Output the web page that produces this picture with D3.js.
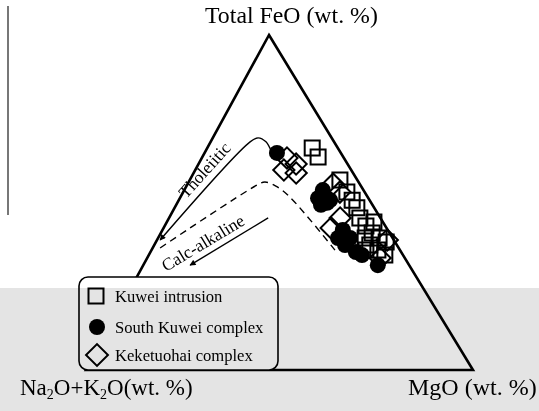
<!DOCTYPE html>
<html><head><meta charset="utf-8">
<script src="https://cdn.jsdelivr.net/npm/d3@7/dist/d3.min.js"></script>
<style>html,body{margin:0;padding:0;background:#fff;}svg{display:block;}</style>
</head><body>
<script>
// Ternary AFM data: FeO (top), MgO (right); alkalis = 100 - FeO - MgO
const kuweiFeO = [56.7,53.1,50.7,48.4,45.4,43.0,40.9,39.4,38.2,37.3,35.8,35.8,34.3,44.2,39.4,66.3,63.6];
const kuweiMgO = [38.8,42.3,44.8,47.1,49.3,52.0,54.6,57.1,59.5,55.7,58.5,55.4,61.0,53.5,53.5,27.1,29.9];
const southFeO = [64.8,51.3,53.7,49.3,50.7,49.9,39.4,41.8,37.3,39.4,35.2,34.3,31.3];
const southMgO = [18.7,35.7,35.8,37.4,39.1,38.7,46.5,46.6,49.3,49.6,53.1,55.1,60.6];
const keketFeO = [63.3,61.5,59.7,58.8,55.5,53.1,42.4,45.4,38.8,33.4];
const keketMgO = [22.0,25.2,22.9,26.5,37.6,40.5,43.3,44.2,59.5,60.2];
// Boundary curves
const tholFeO = [64.8,68.1,69.3,68.1,38.8];
const tholMgO = [17.4,14.3,11.7,10.2,0.8];
const calcFeO = [35.8,51.6,54.9,56.1,55.2,36.4];
const calcMgO = [47.4,28.3,23.1,19.7,18.1,1.9];
const calcArrowFeO = [45.4,31.3];
const calcArrowMgO = [25.6,12.1];
const legendLabels = ["Kuwei intrusion","South Kuwei complex","Keketuohai complex"];

const W = 539, H = 411;
const svg = d3.select("body").append("svg").attr("width", W).attr("height", H);
const serif = "'Liberation Serif','Times New Roman',serif";

// ternary geometry via scales
const baseY = 370, xA = 86, xM = 473, xF = 269, yF = 35;
const yScale = d3.scaleLinear().domain([0,100]).range([baseY, yF]);
const xF_off = d3.scaleLinear().domain([0,100]).range([0, xF - xA]);
const xM_off = d3.scaleLinear().domain([0,100]).range([0, xM - xA]);
const px = (f, m) => [xA + xF_off(f) + xM_off(m), yScale(f)];

const defs = svg.append("defs");
defs.append("marker").attr("id","arr").attr("viewBox","0 0 10 10").attr("refX",9).attr("refY",5)
  .attr("markerWidth",8).attr("markerHeight",6).attr("markerUnits","userSpaceOnUse").attr("orient","auto")
  .append("path").attr("d","M0,0 L10,5 L0,10 Z").attr("fill","#000");

// left scan line
svg.append("line").attr("x1",8).attr("x2",8).attr("y1",6).attr("y2",215)
  .attr("stroke","#777").attr("stroke-width",2);

// triangle
const tri = [px(100,0), px(0,100), px(0,0)];
svg.append("path").attr("d", d3.line()(tri) + "Z").attr("fill","none")
  .attr("stroke","#000").attr("stroke-width",2.6).attr("stroke-linejoin","miter");

const lineGen = d3.line().curve(d3.curveCatmullRom.alpha(0.5));
svg.append("path").attr("d", lineGen(tholFeO.map((f,i)=>px(f,tholMgO[i]))))
  .attr("fill","none").attr("stroke","#000").attr("stroke-width",1.4).attr("marker-end","url(#arr)");
svg.append("path").attr("d", lineGen(calcFeO.map((f,i)=>px(f,calcMgO[i]))))
  .attr("fill","none").attr("stroke","#000").attr("stroke-width",1.4).attr("stroke-dasharray","7,5");
svg.append("path").attr("d", d3.line()(calcArrowFeO.map((f,i)=>px(f,calcArrowMgO[i]))))
  .attr("fill","none").attr("stroke","#000").attr("stroke-width",1.4).attr("marker-end","url(#arr)");

svg.append("text").attr("transform","translate(209,174) rotate(-48)").attr("text-anchor","middle")
  .attr("font-family",serif).attr("font-size",17.5).text("Tholeiitic");
svg.append("text").attr("transform","translate(206,248) rotate(-31)").attr("text-anchor","middle")
  .attr("font-family",serif).attr("font-size",17.5).text("Calc-alkaline");

// data
const g = svg.append("g");
southFeO.forEach((f,i)=>{
  const [x,y] = px(f, southMgO[i]);
  g.append("circle").attr("cx",x).attr("cy",y).attr("r",8).attr("fill","#000");
});
const sq = d3.symbol().type(d3.symbolSquare).size(15*15);
kuweiFeO.forEach((f,i)=>{
  const [x,y] = px(f, kuweiMgO[i]);
  g.append("path").attr("d",sq()).attr("transform",`translate(${x},${y})`)
    .attr("fill","none").attr("stroke","#000").attr("stroke-width",2);
});
keketFeO.forEach((f,i)=>{
  const [x,y] = px(f, keketMgO[i]);
  g.append("path").attr("d",sq()).attr("transform",`translate(${x},${y}) rotate(45)`)
    .attr("fill","none").attr("stroke","#000").attr("stroke-width",2);
});

// legend
svg.append("rect").attr("x",79).attr("y",277).attr("width",199).attr("height",93).attr("rx",9)
  .attr("fill","#fff").attr("stroke","#000").attr("stroke-width",1.6);
const ly = [296, 327, 355];
const lsq = d3.symbol().type(d3.symbolSquare).size(15*15);
svg.append("path").attr("d",lsq()).attr("transform",`translate(96,${ly[0]})`)
  .attr("fill","none").attr("stroke","#000").attr("stroke-width",2);
svg.append("circle").attr("cx",97).attr("cy",ly[1]).attr("r",8).attr("fill","#000");
svg.append("path").attr("d",d3.symbol().type(d3.symbolSquare).size(15.5*15.5)()).attr("transform",`translate(97,${ly[2]}) rotate(45)`)
  .attr("fill","none").attr("stroke","#000").attr("stroke-width",2);
legendLabels.forEach((t,i)=>{
  svg.append("text").attr("x",115).attr("y",[302,333,361][i]).attr("font-family",serif)
    .attr("font-size",16.6).text(t);
});

// axis labels
svg.append("text").attr("x",205).attr("y",23).attr("font-family",serif).attr("font-size",23.8)
  .text("Total FeO (wt. %)");
const al = svg.append("text").attr("x",20).attr("y",395).attr("font-family",serif).attr("font-size",23);
al.append("tspan").text("Na");
al.append("tspan").attr("font-size",14).attr("dy",4).text("2");
al.append("tspan").attr("dy",-4).text("O+K");
al.append("tspan").attr("font-size",14).attr("dy",4).text("2");
al.append("tspan").attr("dy",-4).text("O(wt. %)");
svg.append("text").attr("x",408).attr("y",395).attr("font-family",serif).attr("font-size",24)
  .text("MgO (wt. %)");

// scan band
svg.append("rect").attr("x",0).attr("y",288).attr("width",W).attr("height",H-288)
  .attr("fill","#e4e4e4").style("mix-blend-mode","multiply");
</script>
</body></html>
